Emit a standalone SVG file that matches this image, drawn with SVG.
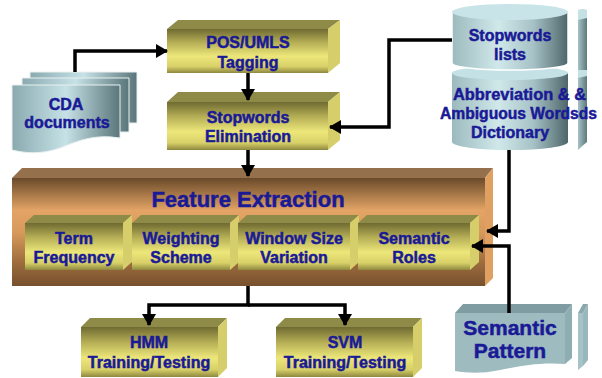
<svg xmlns="http://www.w3.org/2000/svg" width="602" height="378" viewBox="0 0 602 378">
<defs>
<linearGradient id="yf" x1="0" y1="0" x2="0" y2="1">
<stop offset="0" stop-color="#6f6a32"/>
<stop offset="0.3" stop-color="#b4ad55"/>
<stop offset="0.62" stop-color="#ede77a"/>
<stop offset="0.85" stop-color="#d8d068"/>
<stop offset="1" stop-color="#8e8840"/>
</linearGradient>
<linearGradient id="bf" x1="0" y1="0" x2="0" y2="1">
<stop offset="0" stop-color="#6a4a2a"/>
<stop offset="0.3" stop-color="#e3a466"/>
<stop offset="0.5" stop-color="#d89a5c"/>
<stop offset="0.8" stop-color="#9a6a3c"/>
<stop offset="1" stop-color="#77502e"/>
</linearGradient>
<linearGradient id="cyl" x1="0" y1="0" x2="1" y2="0">
<stop offset="0" stop-color="#9cbabe"/>
<stop offset="0.4" stop-color="#d0e8ea"/>
<stop offset="0.7" stop-color="#a6c2c6"/>
<stop offset="1" stop-color="#4e666a"/>
</linearGradient>
<linearGradient id="sl" x1="0" y1="0" x2="1" y2="0">
<stop offset="0" stop-color="#a6c2c6"/>
<stop offset="1" stop-color="#5e787c"/>
</linearGradient>
<linearGradient id="doc" x1="0" y1="0" x2="1" y2="0">
<stop offset="0" stop-color="#8aaab0"/>
<stop offset="0.5" stop-color="#c6e2e6"/>
<stop offset="1" stop-color="#5a767a"/>
</linearGradient>
<marker id="ah" markerUnits="userSpaceOnUse" markerWidth="12" markerHeight="14" refX="11" refY="7" orient="auto">
<path d="M0,0 L12,7 L0,14 z" fill="#000"/>
</marker>
</defs>
<style>
.yt{fill:#8e8a48}
.ys{fill:#d6ce6a}
.yfr{fill:url(#yf)}
.t{font-family:"Liberation Sans",Arial,sans-serif;font-weight:bold;font-size:16px;fill:#1a1a96;stroke:#1a1a96;stroke-width:0.5;text-anchor:middle}
.c{fill:none;stroke:#000;stroke-width:3.5}
</style>
<rect width="602" height="378" fill="#fff"/>

<g id="cda">
<path d="M30,72 H137 V123 H30 Z" fill="url(#doc)" stroke="#e8f0f0" stroke-width="1"/>
<path d="M22,78 H129 V132 H22 Z" fill="url(#doc)" stroke="#e8f0f0" stroke-width="1"/>
<path d="M12,85 H120 V138 C95,134 80,140 60,148 C40,155 25,153 12,150 Z" fill="url(#doc)" stroke="#e8f0f0" stroke-width="1"/>
<text class="t" x="66" y="110">CDA</text>
<text class="t" x="67" y="128">documents</text>
</g>

<g id="pos">
<polygon class="yt" points="167,29 178,20 340,20 328,29"/>
<polygon class="ys" points="328,29 340,20 340,63 328,73"/>
<rect class="yfr" x="167" y="29" width="161" height="44"/>
<text class="t" x="248" y="48">POS/UMLS</text>
<text class="t" x="248" y="68">Tagging</text>
</g>

<g id="stop">
<polygon class="yt" points="167,102 178,92 340,92 328,102"/>
<polygon class="ys" points="328,102 340,92 340,140 328,150"/>
<rect class="yfr" x="167" y="102" width="161" height="48"/>
<text class="t" x="248" y="123">Stopwords</text>
<text class="t" x="248" y="142">Elimination</text>
</g>

<g id="dict">
<path d="M578,10 Q582,9 587,10 V142 Q582,146 578,150 Z" fill="url(#sl)"/>
<path d="M578,10 Q582,9 587,10 V18 Q582,19 578,20 Z" fill="#c4e2e6"/>
<path d="M578,70 Q582,70 587,70 V76 Q582,77 578,78 Z" fill="#c4e2e6"/>
<path d="M452,73 V142 A58,8 0 0 0 568,142 V73 Z" fill="url(#cyl)"/>
<ellipse cx="510" cy="73" rx="58" ry="7" fill="#c4e2e6"/>
<path d="M452,12 V63 A58,7 0 0 0 568,63 V12 Z" fill="url(#cyl)" stroke="#fff" stroke-width="1.5"/>
<ellipse cx="510" cy="12" rx="58" ry="8" fill="#c8e4e8"/>
<text class="t" x="510" y="41">Stopwords</text>
<text class="t" x="510" y="60">lists</text>
<text class="t" x="453" y="100" style="text-anchor:start" textLength="133" lengthAdjust="spacingAndGlyphs">Abbreviation &amp; &amp;</text>
<text class="t" x="440" y="119" style="text-anchor:start" textLength="157" lengthAdjust="spacingAndGlyphs">Ambiguous Wordsds</text>
<text class="t" x="510" y="138">Dictionary</text>
</g>

<g id="fe">
<polygon points="12,178 22,168 493,168 485,178" fill="#94704c"/>
<polygon points="485,178 493,168 493,278 485,286" fill="#e0a062"/>
<rect x="12" y="178" width="473" height="108" fill="url(#bf)"/>
<text class="t" x="248" y="207" style="font-size:22px">Feature Extraction</text>
</g>

<g id="tf">
<polygon class="yt" points="25,223 34,215 132,215 123,223"/>
<polygon class="ys" points="123,223 132,215 132,262 123,270"/>
<rect class="yfr" x="25" y="223" width="98" height="47"/>
<text class="t" x="74" y="244">Term</text>
<text class="t" x="74" y="263">Frequency</text>
</g>
<g id="ws">
<polygon class="yt" points="132,223 141,215 239,215 230,223"/>
<polygon class="ys" points="230,223 239,215 239,262 230,270"/>
<rect class="yfr" x="132" y="223" width="98" height="47"/>
<text class="t" x="181" y="244">Weighting</text>
<text class="t" x="181" y="263">Scheme</text>
</g>
<g id="wsv">
<polygon class="yt" points="238,223 247,215 359,215 350,223"/>
<polygon class="ys" points="350,223 359,215 359,262 350,270"/>
<rect class="yfr" x="238" y="223" width="112" height="47"/>
<text class="t" x="294" y="244">Window Size</text>
<text class="t" x="294" y="263">Variation</text>
</g>
<g id="sr">
<polygon class="yt" points="358,223 367,215 479,215 470,223"/>
<polygon class="ys" points="470,223 479,215 479,262 470,270"/>
<rect class="yfr" x="358" y="223" width="112" height="47"/>
<text class="t" x="414" y="244">Semantic</text>
<text class="t" x="414" y="263">Roles</text>
</g>

<g id="hmm">
<polygon class="yt" points="81,327 90,318 227,318 218,327"/>
<polygon class="ys" points="218,327 227,318 227,368 218,377"/>
<rect class="yfr" x="81" y="327" width="137" height="50"/>
<text class="t" x="149" y="348">HMM</text>
<text class="t" x="149" y="368">Training/Testing</text>
</g>
<g id="svm">
<polygon class="yt" points="276,327 285,318 422,318 413,327"/>
<polygon class="ys" points="413,327 422,318 422,368 413,377"/>
<rect class="yfr" x="276" y="327" width="137" height="50"/>
<text class="t" x="345" y="348">SVM</text>
<text class="t" x="345" y="368">Training/Testing</text>
</g>

<g id="sp">
<polygon points="578,313 583,304 588,304 583,313" fill="#8aa8ac"/>
<polygon points="578,313 583,313 583,366 578,370" fill="#a6c4c8"/>
<polygon points="583,313 588,304 588,360 583,366" fill="#9ab8bc"/>
<polygon points="455,313 463,304 572,304 565,313" fill="#7f9ca2"/>
<polygon points="565,313 572,304 572,358 565,364" fill="#8eaeb2"/>
<path d="M455,313 H565 V364 C540,362 520,366 500,370 C480,374 468,373 455,371 Z" fill="#9ebcc0"/>
<text class="t" x="510" y="335" style="font-size:21px">Semantic</text>
<text class="t" x="510" y="358" style="font-size:21px">Pattern</text>
</g>

<g id="connectors">
<path class="c" d="M75,72 V51 H167" marker-end="url(#ah)"/>
<path class="c" d="M248,73 V100" marker-end="url(#ah)"/>
<path class="c" d="M452,40 H389 V127 H330" marker-end="url(#ah)"/>
<path class="c" d="M248,150 V176" marker-end="url(#ah)"/>
<path class="c" d="M509,150 V231 H487" marker-end="url(#ah)"/>
<path class="c" d="M509,313 V246 H472" marker-end="url(#ah)"/>
<path class="c" d="M248,286 V305 H149 V325" marker-end="url(#ah)"/>
<path class="c" d="M248,305 H345 V325" marker-end="url(#ah)"/>
</g>
</svg>
